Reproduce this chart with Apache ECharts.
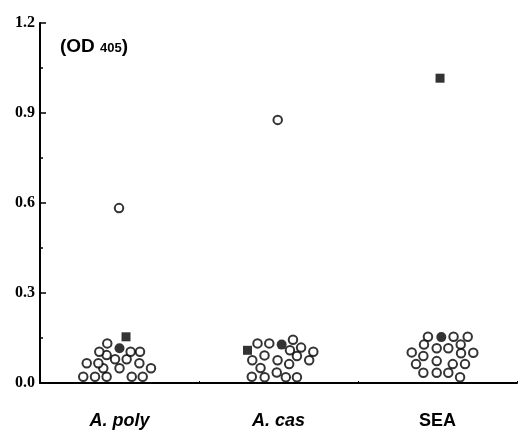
<!DOCTYPE html>
<html>
<head>
<meta charset="utf-8">
<script src="https://cdn.jsdelivr.net/npm/echarts@6/dist/echarts.min.js"></script>
<style>
  html, body { margin: 0; padding: 0; background: #fff; }
  #chart { width: 519px; height: 432px; }
</style>
</head>
<body>
<div id="chart"></div>
<script>
// groups on the x axis
var categories = ['A. poly', 'A. cas', 'SEA'];
var yTicks = [0, 0.3, 0.6, 0.9, 1.2];

// [offset from group centre (in group widths), OD405]
var polyOpen = [
  [-0.228, 0.021], [-0.154, 0.021], [-0.081, 0.021], [0.077, 0.021], [0.146, 0.021],
  [-0.102, 0.049], [0.0, 0.049], [0.198, 0.049],
  [-0.206, 0.066], [-0.133, 0.066], [0.125, 0.066],
  [-0.028, 0.079], [0.045, 0.079],
  [-0.081, 0.093],
  [-0.127, 0.104], [0.070, 0.104], [0.129, 0.104],
  [-0.077, 0.132],
  [-0.003, 0.583]
];
var polyFilled = [[0.0, 0.116]];
var polySquare = [[0.041, 0.154]];

var casOpen = [
  [-0.132, 0.132], [-0.058, 0.132], [0.091, 0.144], [0.142, 0.118],
  [0.072, 0.109], [0.219, 0.104], [-0.088, 0.092],
  [-0.165, 0.076], [-0.006, 0.076], [0.116, 0.090], [0.193, 0.076],
  [0.067, 0.063], [-0.113, 0.050],
  [-0.168, 0.021], [-0.087, 0.019], [-0.011, 0.035], [0.046, 0.019], [0.116, 0.019],
  [-0.005, 0.877]
];
var casFilled = [[0.020, 0.128]];
var casSquare = [[-0.195, 0.109]];

var seaOpen = [
  [-0.060, 0.154], [0.101, 0.154], [0.190, 0.154],
  [-0.085, 0.128], [-0.005, 0.116], [0.068, 0.116], [0.146, 0.128],
  [0.148, 0.099], [0.225, 0.101], [-0.162, 0.102], [-0.089, 0.090],
  [-0.005, 0.073], [-0.135, 0.063], [0.096, 0.063], [0.173, 0.063],
  [-0.089, 0.034], [-0.005, 0.034], [0.068, 0.034], [0.142, 0.019]
];
var seaFilled = [[0.024, 0.153]];
var seaSquare = [[0.016, 1.016]];

function place(groupIndex, pts) {
  return pts.map(function (p) { return [groupIndex + 0.5 + p[0], p[1]]; });
}

var openData = place(0, polyOpen).concat(place(1, casOpen), place(2, seaOpen));
var filledData = place(0, polyFilled).concat(place(1, casFilled), place(2, seaFilled));
var squareData = place(0, polySquare).concat(place(1, casSquare), place(2, seaSquare));

var myChart = echarts.init(document.getElementById('chart'));
var option = {
  backgroundColor: '#fff',
  animation: false,
  grid: { left: 40, right: 2, top: 23, bottom: 49 },
  xAxis: [
    {
      type: 'category',
      data: categories,
      boundaryGap: true,
      axisLine: { lineStyle: { color: '#000', width: 2 } },
      axisTick: { alignWithLabel: true, inside: true, length: 5, lineStyle: { color: '#000', width: 1 } },
      axisLabel: {
        margin: 29,
        formatter: function (v) {
          return v === 'SEA' ? '{n|' + v + '}' : '{i|' + v + '}';
        },
        rich: {
          i: { fontFamily: 'Liberation Sans', fontWeight: 'bold', fontStyle: 'italic', fontSize: 18, color: '#000' },
          n: { fontFamily: 'Liberation Sans', fontWeight: 'bold', fontSize: 18, color: '#000' }
        }
      },
      splitLine: { show: false }
    },
    {
      type: 'value',
      min: 0,
      max: 3,
      interval: 1,
      position: 'bottom',
      axisLine: { show: false },
      axisTick: { show: true, inside: true, length: 2, lineStyle: { color: '#000', width: 1 } },
      axisLabel: { show: false },
      splitLine: { show: false }
    }
  ],
  yAxis: {
    type: 'value',
    min: 0,
    max: 1.2,
    interval: 0.3,
    axisLine: { show: true, lineStyle: { color: '#000', width: 2 } },
    axisTick: { show: true, inside: true, length: 6, lineStyle: { color: '#000', width: 1.5 } },
    minorTick: { show: true, splitNumber: 2, length: 3, lineStyle: { color: '#000', width: 1.5 } },
    axisLabel: {
      margin: 5,
      color: '#000',
      fontFamily: 'Liberation Serif',
      fontWeight: 'bold',
      fontSize: 16,
      formatter: function (v) { return v.toFixed(1); }
    },
    splitLine: { show: false }
  },
  graphic: [
    {
      type: 'text',
      left: 60,
      top: 37,
      style: {
        text: '{a|(OD }{b|405}{a|)}',
        rich: {
          a: { fontFamily: 'Liberation Sans', fontWeight: 'bold', fontSize: 19, fill: '#000' },
          b: { fontFamily: 'Liberation Sans', fontWeight: 'bold', fontSize: 13, fill: '#000', padding: [4, 0, 0, 0] }
        }
      }
    }
  ],
  series: [
    {
      name: 'open',
      type: 'scatter',
      xAxisIndex: 1,
      symbol: 'circle',
      symbolSize: 8.5,
      itemStyle: { color: '#fff', borderColor: '#000', borderWidth: 2 },
      data: openData
    },
    {
      name: 'filled',
      type: 'scatter',
      xAxisIndex: 1,
      symbol: 'circle',
      symbolSize: 10,
      itemStyle: { color: '#000' },
      data: filledData
    },
    {
      name: 'square',
      type: 'scatter',
      xAxisIndex: 1,
      symbol: 'rect',
      symbolSize: 9,
      itemStyle: { color: '#000' },
      data: squareData
    }
  ]
};
myChart.setOption(option);
</script>
</body>
</html>
